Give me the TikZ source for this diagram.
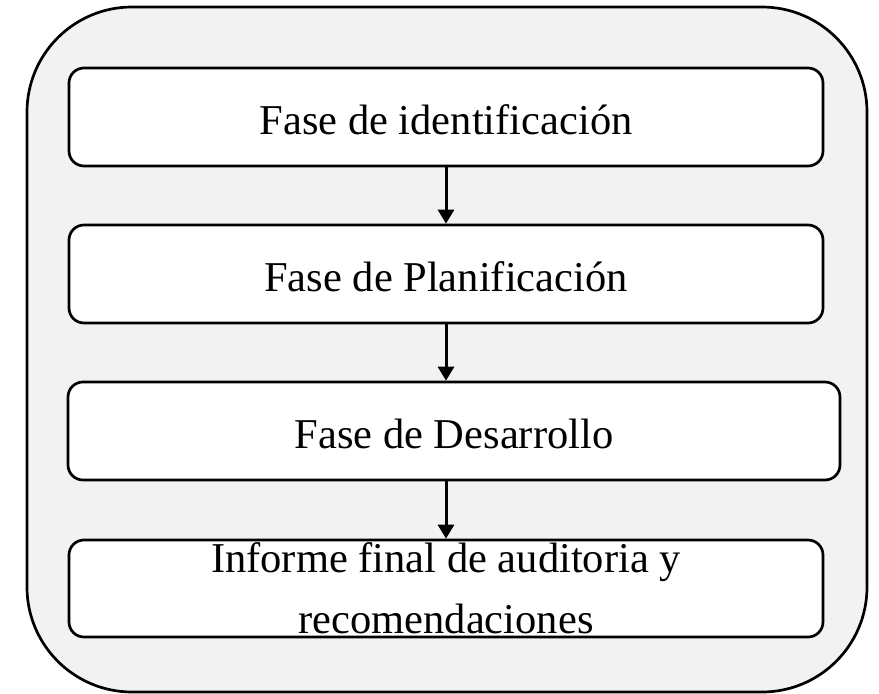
\documentclass[tikz,border=0pt]{standalone}
\usepackage{fontspec}
\setmainfont{Liberation Serif}
\usetikzlibrary{arrows.meta}
\tikzset{
  outerbox/.style={draw=black, line width=2.7pt, fill=black!5, rounded corners=105pt},
  phasebox/.style={draw=black, line width=2.7pt, fill=white, rounded corners=15pt,
    minimum height=98pt, inner sep=0pt, font=\fontsize{42.5}{54}\selectfont},
  oneline/.style={text height=34pt, text depth=0pt},
  flow/.style={line width=3pt, -{Triangle[width=16pt,length=14pt]}}
}
\begin{document}
\begin{tikzpicture}[x=1pt,y=-1pt]
\useasboundingbox (0,0) rectangle (879,694);
\draw[outerbox] (27,7) rectangle (867,692);
\node[phasebox, oneline, minimum width=754pt] (p1) at (446,117) {Fase de identificación};
\node[phasebox, oneline, minimum width=754pt] (p2) at (446,274) {Fase de Planificación};
\node[phasebox, oneline, minimum width=772pt] (p3) at (454,431) {Fase de Desarrollo};
\node[phasebox, minimum width=754pt, minimum height=97pt, align=center] (p4) at (446,588.5) {Informe final de auditoria y\\[7pt]recomendaciones};
\draw[flow] (446,0 |- p1.south) -- (446,0 |- p2.north);
\draw[flow] (446,0 |- p2.south) -- (446,0 |- p3.north);
\draw[flow] (446,0 |- p3.south) -- (446,0 |- p4.north);
\end{tikzpicture}
\end{document}
